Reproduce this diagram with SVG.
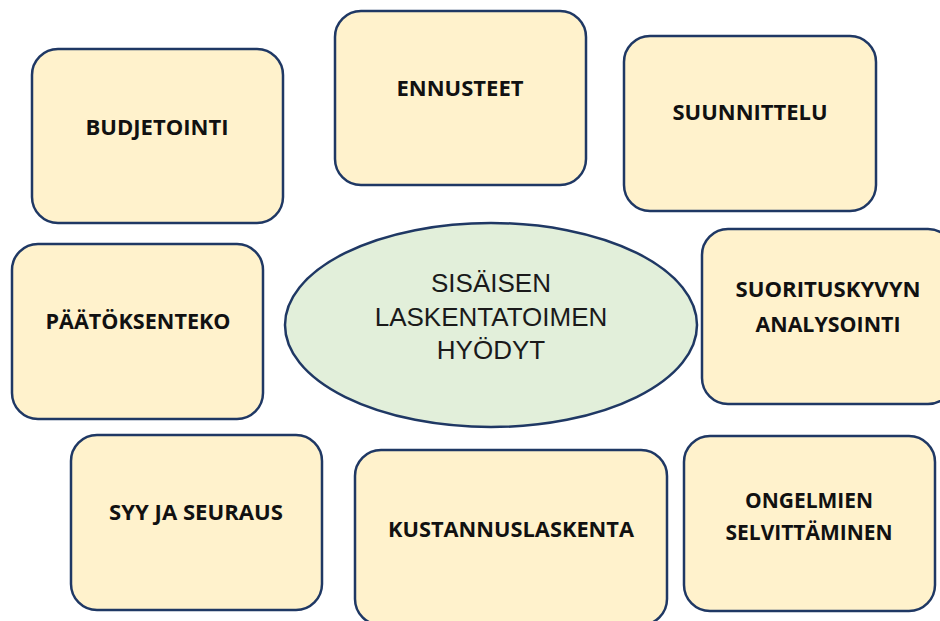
<svg xmlns="http://www.w3.org/2000/svg" width="940" height="621" viewBox="0 0 940 621">
<style>
.box{fill:#fff2cc;stroke:#1f3864;stroke-width:2.5}
.ell{fill:#e2efda;stroke:#1f3864;stroke-width:2.5}
.lbl{font-family:"Open Sans","Liberation Sans",sans-serif;font-weight:700;font-size:21.5px;fill:#111;text-anchor:middle}
.ctr{font-family:"Liberation Sans",Arial,sans-serif;font-size:26px;fill:#1a1a1a;text-anchor:middle}
</style>
<rect width="940" height="621" fill="#fff"/>
<g id="connectors"></g>
<g id="budjetointi">
<rect class="box" x="32" y="49" width="251" height="174" rx="26"/>
<text class="lbl" x="157" y="135" textLength="143" lengthAdjust="spacingAndGlyphs">BUDJETOINTI</text>
</g>
<g id="ennusteet">
<rect class="box" x="335" y="11" width="251" height="174" rx="26"/>
<text class="lbl" x="460" y="96" textLength="127" lengthAdjust="spacingAndGlyphs">ENNUSTEET</text>
</g>
<g id="suunnittelu">
<rect class="box" x="624" y="36" width="252" height="175" rx="26"/>
<text class="lbl" x="750" y="120" textLength="155" lengthAdjust="spacingAndGlyphs">SUUNNITTELU</text>
</g>
<g id="paatoksenteko">
<rect class="box" x="12" y="244" width="251" height="175" rx="26"/>
<text class="lbl" x="138" y="329" textLength="185" lengthAdjust="spacingAndGlyphs">PÄÄTÖKSENTEKO</text>
</g>
<g id="center">
<ellipse class="ell" cx="491" cy="325" rx="206" ry="102"/>
<text class="ctr" x="491" y="292">SISÄISEN</text>
<text class="ctr" x="491" y="326">LASKENTATOIMEN</text>
<text class="ctr" x="491" y="359">HYÖDYT</text>
</g>
<g id="suorituskyvyn">
<rect class="box" x="702" y="229" width="252" height="175" rx="26"/>
<text class="lbl" x="828" y="297" textLength="185" lengthAdjust="spacingAndGlyphs">SUORITUSKYVYN</text>
<text class="lbl" x="828" y="332" textLength="145" lengthAdjust="spacingAndGlyphs">ANALYSOINTI</text>
</g>
<g id="syy">
<rect class="box" x="71" y="435" width="251" height="175" rx="26"/>
<text class="lbl" x="196" y="520" textLength="174" lengthAdjust="spacingAndGlyphs">SYY JA SEURAUS</text>
</g>
<g id="kustannuslaskenta">
<rect class="box" x="355" y="450" width="312" height="175" rx="26"/>
<text class="lbl" x="511" y="537" textLength="246" lengthAdjust="spacingAndGlyphs">KUSTANNUSLASKENTA</text>
</g>
<g id="ongelmien">
<rect class="box" x="684" y="436" width="251" height="175" rx="26"/>
<text class="lbl" x="809" y="508" textLength="128" lengthAdjust="spacingAndGlyphs">ONGELMIEN</text>
<text class="lbl" x="809" y="540" textLength="167" lengthAdjust="spacingAndGlyphs">SELVITTÄMINEN</text>
</g>
</svg>
